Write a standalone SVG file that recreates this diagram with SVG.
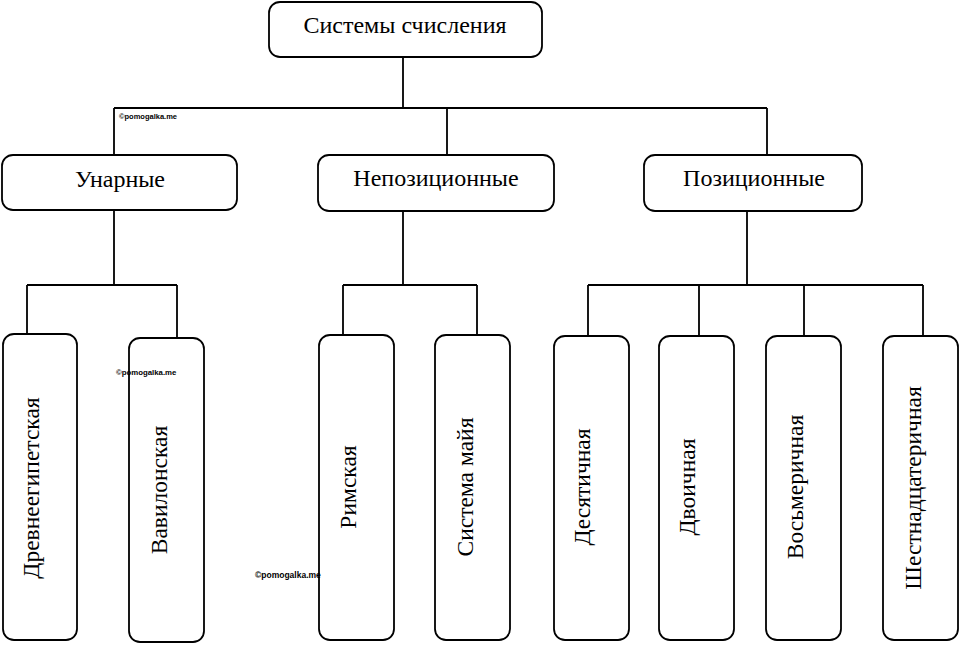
<svg xmlns="http://www.w3.org/2000/svg" width="960" height="645" viewBox="0 0 960 645">
<style>
.box{fill:#fff;stroke:#000;stroke-width:1.8}
.lbl{font-family:"Liberation Serif","Times New Roman",serif;font-size:23.5px;fill:#000;text-anchor:middle}
.big{font-size:24px}
.wm{font-family:"Liberation Sans",Arial,sans-serif;font-weight:bold;fill:#000}
.conn{fill:none;stroke:#000;stroke-width:1.8}
</style>
<rect width="960" height="645" fill="#fff"/>
<g id="connectors" class="conn">
<path d="M403 57V108M114 108H767M114 108V155M447 108V155M767 108V155"/>
<path d="M114 210V285M27 285H177M27 285V334M177 285V338"/>
<path d="M403 211V285M343 285H477M343 285V335M477 285V335"/>
<path d="M747 211V285M588 285H923M588 285V336M699 285V336M804 285V336M923 285V336"/>
</g>
<g id="root"><rect class="box" x="269" y="2" width="273" height="55" rx="11"/><text class="lbl big" x="405" y="33">Системы счисления</text></g>
<g id="unary"><rect class="box" x="2" y="155" width="235" height="55" rx="11"/><text class="lbl big" x="120" y="187">Унарные</text></g>
<g id="nonpos"><rect class="box" x="318" y="155" width="236" height="56" rx="11"/><text class="lbl big" x="436" y="186">Непозиционные</text></g>
<g id="pos"><rect class="box" x="644" y="155" width="218" height="56" rx="11"/><text class="lbl big" x="754" y="186">Позиционные</text></g>
<g id="egypt"><rect class="box" x="3" y="334" width="74" height="306" rx="11"/><text class="lbl" transform="translate(39 488) rotate(-90)">Древнеегипетская</text></g>
<g id="babylon"><rect class="box" x="129" y="338" width="75" height="304" rx="11"/><text class="lbl" transform="translate(167 490) rotate(-90)">Вавилонская</text></g>
<g id="roman"><rect class="box" x="319" y="335" width="75" height="305" rx="11"/><text class="lbl" transform="translate(356 487) rotate(-90)">Римская</text></g>
<g id="maya"><rect class="box" x="435" y="335" width="75" height="305" rx="11"/><text class="lbl" transform="translate(473 487) rotate(-90)">Система майя</text></g>
<g id="dec"><rect class="box" x="554" y="336" width="75" height="304" rx="11"/><text class="lbl" transform="translate(590 487) rotate(-90)">Десятичная</text></g>
<g id="bin"><rect class="box" x="659" y="336" width="75" height="304" rx="11"/><text class="lbl" transform="translate(695 487) rotate(-90)">Двоичная</text></g>
<g id="oct"><rect class="box" x="766" y="336" width="75" height="304" rx="11"/><text class="lbl" transform="translate(803 487) rotate(-90)">Восьмеричная</text></g>
<g id="hex"><rect class="box" x="883" y="336" width="75" height="304" rx="11"/><text class="lbl" transform="translate(921 488) rotate(-90)">Шестнадцатеричная</text></g>
<g id="watermarks">
<text class="wm" x="119" y="119" font-size="7.5">©pomogalka.me</text>
<text class="wm" x="116" y="375" font-size="7.8">©pomogalka.me</text>
<text class="wm" x="255" y="578" font-size="8.5">©pomogalka.me</text>
</g>
</svg>
